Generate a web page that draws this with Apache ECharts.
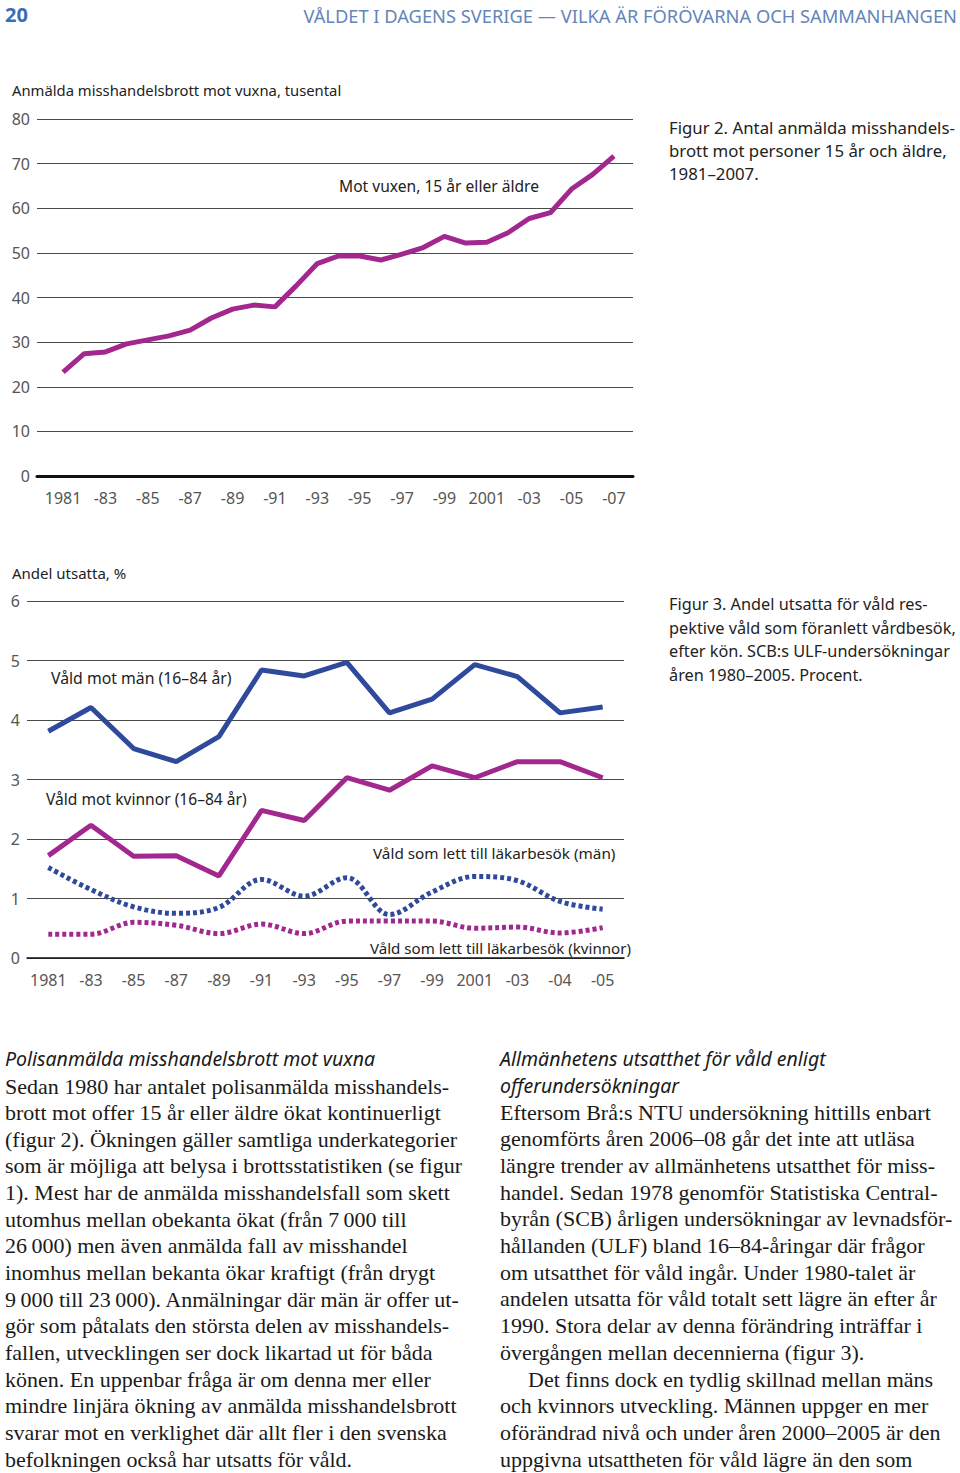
<!DOCTYPE html>
<html>
<head>
<meta charset="utf-8">
<script src="https://cdn.jsdelivr.net/npm/echarts@6/dist/echarts.min.js"></script>
<style>
html,body{margin:0;padding:0;background:#fff;}
#chart{width:960px;height:1473px;}
</style>
</head>
<body>
<div id="chart"></div>
<script>
// ---- Figure 2 data ----
const years1 = [1981,1982,1983,1984,1985,1986,1987,1988,1989,1990,1991,1992,1993,1994,1995,1996,1997,1998,1999,2000,2001,2002,2003,2004,2005,2006,2007];
const assaults = [23.3,27.4,27.8,29.6,30.5,31.4,32.7,35.4,37.4,38.3,37.9,42.6,47.6,49.3,49.3,48.4,49.7,51.2,53.7,52.2,52.4,54.5,57.7,59.0,64.3,67.6,71.7];
const xTickYears1 = [1981,1983,1985,1987,1989,1991,1993,1995,1997,1999,2001,2003,2005,2007];
const xTickLabels1 = ['1981','-83','-85','-87','-89','-91','-93','-95','-97','-99','2001','-03','-05','-07'];

// ---- Figure 3 data ----
const periods = ['1981','-83','-85','-87','-89','-91','-93','-95','-97','-99','2001','-03','-04','-05'];
const menViolence = [3.81,4.21,3.52,3.30,3.72,4.84,4.74,4.97,4.12,4.35,4.93,4.73,4.12,4.22];
const womenViolence = [1.72,2.23,1.71,1.72,1.38,2.48,2.31,3.03,2.82,3.23,3.03,3.30,3.30,3.03];
const menDoctor = [1.52,1.15,0.86,0.75,0.85,1.32,1.04,1.35,0.73,1.11,1.37,1.30,0.95,0.82];
const womenDoctor = [0.40,0.40,0.60,0.55,0.41,0.57,0.41,0.62,0.62,0.62,0.50,0.52,0.42,0.51];

// ---- Texts ----
const pageNumber = '20';
const runningHead = 'VÅLDET I DAGENS SVERIGE — VILKA ÄR FÖRÖVARNA OCH SAMMANHANGEN';
const fig2Unit = 'Anmälda misshandelsbrott mot vuxna, tusental';
const fig2SeriesLabel = 'Mot vuxen, 15 år eller äldre';
const fig2Caption = ['Figur 2. Antal anmälda misshandels-','brott mot personer 15 år och äldre,','1981–2007.'];
const fig3Unit = 'Andel utsatta, %';
const fig3Labels = ['Våld mot män (16–84 år)','Våld mot kvinnor (16–84 år)','Våld som lett till läkarbesök (män)','Våld som lett till läkarbesök (kvinnor)'];
const fig3Caption = ['Figur 3. Andel utsatta för våld res-','pektive våld som föranlett vårdbesök,','efter kön. SCB:s ULF-undersökningar','åren 1980–2005. Procent.'];
const leftHeading = ['Polisanmälda misshandelsbrott mot vuxna'];
const leftBody = [
 'Sedan 1980 har antalet polisanmälda misshandels-',
 'brott mot offer 15 år eller äldre ökat kontinuerligt',
 '(figur 2). Ökningen gäller samtliga underkategorier',
 'som är möjliga att belysa i brottsstatistiken (se figur',
 '1). Mest har de anmälda misshandelsfall som skett',
 'utomhus mellan obekanta ökat (från 7\u2009000 till',
 '26\u2009000) men även anmälda fall av misshandel',
 'inomhus mellan bekanta ökar kraftigt (från drygt',
 '9\u2009000 till 23\u2009000). Anmälningar där män är offer ut-',
 'gör som påtalats den största delen av misshandels-',
 'fallen, utvecklingen ser dock likartad ut för båda',
 'könen. En uppenbar fråga är om denna mer eller',
 'mindre linjära ökning av anmälda misshandelsbrott',
 'svarar mot en verklighet där allt fler i den svenska',
 'befolkningen också har utsatts för våld.'
];
const rightHeading = ['Allmänhetens utsatthet för våld enligt','offerundersökningar'];
const rightBody = [
 'Eftersom Brå:s NTU undersökning hittills enbart',
 'genomförts åren 2006–08 går det inte att utläsa',
 'längre trender av allmänhetens utsatthet för miss-',
 'handel. Sedan 1978 genomför Statistiska Central-',
 'byrån (SCB) årligen undersökningar av levnadsför-',
 'hållanden (ULF) bland 16–84-åringar där frågor',
 'om utsatthet för våld ingår. Under 1980-talet är',
 'andelen utsatta för våld totalt sett lägre än efter år',
 '1990. Stora delar av denna förändring inträffar i',
 'övergången mellan decennierna (figur 3).',
 'Det finns dock en tydlig skillnad mellan mäns',
 'och kvinnors utveckling. Männen uppger en mer',
 'oförändrad nivå och under åren 2000–2005 är den',
 'uppgivna utsattheten för våld lägre än den som'
];

const MAGENTA = '#a2288f';
const BLUE = '#2f4a9c';
const SANS = '"Noto Sans", "Open Sans", sans-serif';
const SERIF = '"Liberation Serif", "DejaVu Serif", serif';

function txt(text, x, y, font, fill, align) {
  return {type:'text', x:x, y:y, silent:true,
    style:{text:text, x:0, y:0, font:font, fill:fill||'#222', align:align||'left', verticalAlign:'middle'}};
}

const graphics = [];
graphics.push(txt(pageNumber, 5, 14, 'bold 20px ' + SANS, '#3b6db4'));
graphics.push(txt(runningHead, 957, 15, '18.3px ' + SANS, '#6486b8', 'right'));
graphics.push(txt(fig2Unit, 12, 90, '14.8px ' + SANS, '#222'));
graphics.push(txt(fig2SeriesLabel, 339, 186, '15.6px ' + SANS, '#222'));
fig2Caption.forEach((l,i)=>graphics.push(txt(l, 669, 127 + i*23, '16.8px ' + SANS, '#222')));
graphics.push(txt(fig3Unit, 12, 573, '15px ' + SANS, '#222'));
graphics.push(txt(fig3Labels[0], 51, 678, '15.8px ' + SANS, '#222'));
graphics.push(txt(fig3Labels[1], 46, 799, '15.6px ' + SANS, '#222'));
graphics.push(txt(fig3Labels[2], 373, 853, '15.3px ' + SANS, '#222'));
graphics.push(txt(fig3Labels[3], 370, 948, '15.1px ' + SANS, '#222'));
fig3Caption.forEach((l,i)=>graphics.push(txt(l, 669, 604 + i*23.7, '16.3px ' + SANS, '#222')));
leftHeading.forEach((l,i)=>graphics.push(txt(l, 5, 1058 + i*26.8, 'italic 19.5px ' + SANS, '#1a1a1a')));
leftBody.forEach((l,i)=>graphics.push(txt(l, 5, 1086 + i*26.65, '22px ' + SERIF, '#1a1a1a')));
rightHeading.forEach((l,i)=>graphics.push(txt(l, 500, 1058 + i*27, 'italic 19.5px ' + SANS, '#1a1a1a')));
rightBody.forEach((l,i)=>graphics.push(txt(l, i === 10 ? 528 : 500, 1112 + i*26.7, '22px ' + SERIF, '#1a1a1a')));

const axisLabelStyle = {color:'#555', fontSize:16, fontFamily:SANS};

const chart = echarts.init(document.getElementById('chart'), null, {renderer:'svg', width:960, height:1473});
chart.setOption({
  backgroundColor:'#fff',
  animation:false,
  grid:[
    {left:37, top:119, width:596, height:357},
    {left:27, top:601, width:597, height:357}
  ],
  xAxis:[
    {gridIndex:0, type:'value', min:1979.77, max:2007.9,
     axisLine:{show:true, onZero:false, lineStyle:{color:'#111', width:3}},
     axisTick:{show:false}, splitLine:{show:false},
     axisLabel:Object.assign({}, axisLabelStyle, {margin:14, customValues:xTickYears1,
        formatter:(v)=>{const i = xTickYears1.indexOf(Math.round(v)); return i>=0 ? xTickLabels1[i] : '';}})},
    {gridIndex:1, type:'category', data:periods, boundaryGap:true,
     axisLine:{show:true, onZero:false, lineStyle:{color:'#111', width:1.5}},
     axisTick:{show:false}, splitLine:{show:false},
     axisLabel:Object.assign({}, axisLabelStyle, {margin:14, interval:0})}
  ],
  yAxis:[
    {gridIndex:0, type:'value', min:0, max:80, interval:10,
     axisLine:{show:false}, axisTick:{show:false},
     splitLine:{show:true, lineStyle:{color:'#4a4a4a', width:1.2}},
     axisLabel:Object.assign({}, axisLabelStyle, {margin:7})},
    {gridIndex:1, type:'value', min:0, max:6, interval:1,
     axisLine:{show:false}, axisTick:{show:false},
     splitLine:{show:true, lineStyle:{color:'#4a4a4a', width:1.2}},
     axisLabel:Object.assign({}, axisLabelStyle, {margin:7})}
  ],
  series:[
    {type:'line', xAxisIndex:0, yAxisIndex:0, data:years1.map((y,i)=>[y, assaults[i]]),
     showSymbol:false, lineStyle:{color:MAGENTA, width:5}},
    {type:'line', xAxisIndex:1, yAxisIndex:1, data:menViolence, showSymbol:false,
     lineStyle:{color:BLUE, width:5}},
    {type:'line', xAxisIndex:1, yAxisIndex:1, data:womenViolence, showSymbol:false,
     lineStyle:{color:MAGENTA, width:5}},
    {type:'line', xAxisIndex:1, yAxisIndex:1, data:menDoctor, showSymbol:false, smooth:0.35,
     lineStyle:{color:BLUE, width:5, type:[4,3]}},
    {type:'line', xAxisIndex:1, yAxisIndex:1, data:womenDoctor, showSymbol:false, smooth:0.35,
     lineStyle:{color:MAGENTA, width:5, type:[4,3]}}
  ],
  graphic:graphics
});
</script>
</body>
</html>
